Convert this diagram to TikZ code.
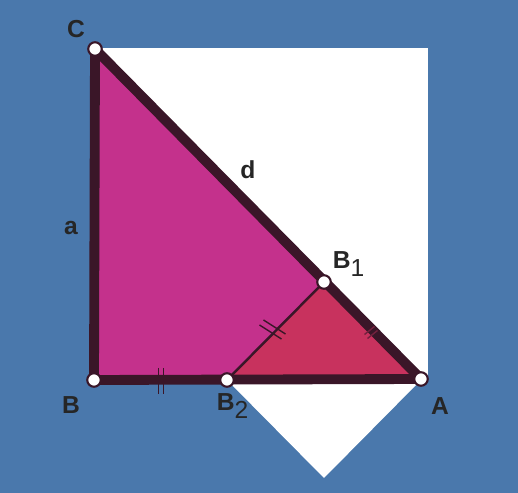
\documentclass[tikz,border=0pt]{standalone}
\usepackage{fontspec}
\setmainfont{Liberation Sans}
\usetikzlibrary{calc}
\definecolor{bgblue}{HTML}{4A78AC}
\definecolor{edge}{HTML}{3A1628}
\definecolor{bigfill}{HTML}{C4318C}
\definecolor{smallfill}{HTML}{C8325E}
\tikzset{
    vertex/.style = {circle, draw = edge, fill = white, line width = 1.2pt, inner sep = 0pt, minimum size = 0.27cm},
    lbl/.style = {font = \fontsize{14}{16}\selectfont\bfseries, text = black!85},
    heavy/.style = {draw = edge, line width = 5.6pt, line join = round},
    tick/.style = {draw = edge, line width = 0.8pt}
}
\begin{document}
\begin{tikzpicture}[x = 0.02cm, y = -0.02cm]
                    \fill[bgblue] (0, 0) rectangle (518, 493);
                    \useasboundingbox (0, 0) rectangle (518, 493);

                    % white square and its folded corner
                    \fill[white] (95, 48) rectangle (428, 377);
                    \fill[white] (227, 380) -- (421, 380) -- (324, 478) -- cycle;

                    \coordinate (C) at (95, 49);
                    \coordinate (B) at (94, 380);
                    \coordinate (A) at (421, 379);
                    \coordinate (B1) at (324, 282);
                    \coordinate (B2) at (227, 380);

                    \fill[bigfill] (C) -- (B) -- (A) -- cycle;
                    \fill[smallfill] (B2) -- (B1) -- (A) -- cycle;

                    \draw[draw = edge, line width = 1.4pt] (B2) -- (B1);
                    \draw[heavy] (C) -- (B) -- (A) -- cycle;

                    % equal marks
                    \draw[tick] ($(B)!0.5!(B2) + (-2, -12)$) -- ++(0, 26);
                    \draw[tick] ($(B)!0.5!(B2) + (3, -12)$) -- ++(0, 26);
                    \draw[tick] ($(B2)!0.5!(B1) + (-16, -6)$) -- ++(22, 14);
                    \draw[tick] ($(B2)!0.5!(B1) + (-12, -11)$) -- ++(22, 14);
                    \draw[tick, draw = edge!60!smallfill] ($(B1)!0.5!(A) + (-8, 4)$) -- ++(10, -8);
                    \draw[tick, draw = edge!60!smallfill] ($(B1)!0.5!(A) + (-5, 8)$) -- ++(10, -8);

                    \node[vertex] (c) at (C) {};
                    \node[vertex] (b) at (B) {};
                    \node[vertex] (a) at (A) {};
                    \node[vertex] (b1) at (B1) {};
                    \node[vertex] (b2) at (B2) {};

                    \node[lbl] (lc) at (76, 29) {C};
                    \node[lbl] (lb) at (71, 405) {B};
                    \node[lbl] (la) at (440, 406) {A};
                    \node[lbl] (lb1) at (349, 264) {B\textsubscript{\normalfont\fontsize{14}{16}\selectfont 1}};
                    \node[lbl] (lb2) at (233, 406) {B\textsubscript{\normalfont\fontsize{14}{16}\selectfont 2}};
                    \node[lbl] (ld) at (248, 170) {d};
                    \node[lbl] (lsa) at (71, 228) {a};
                \end{tikzpicture}
\end{document}
